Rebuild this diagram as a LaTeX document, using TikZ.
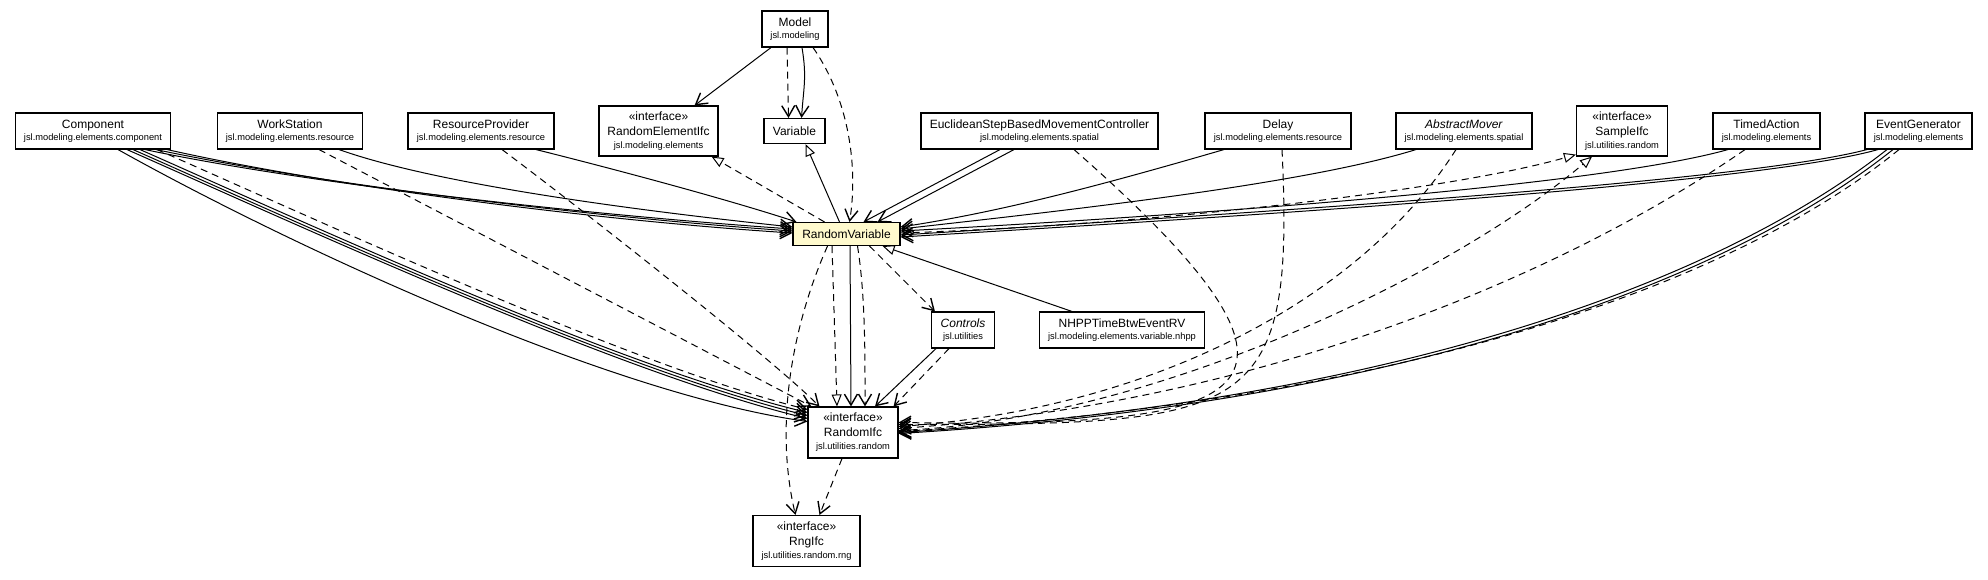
\documentclass[tikz,border=0pt]{standalone}
\usepackage{fontspec}
\setmainfont{Liberation Sans}
\usetikzlibrary{arrows.meta,calc}
\definecolor{rvfill}{RGB}{255,250,205}
\newcommand\pkgline[1]{{\fontsize{9.3}{11}\selectfont #1}}
\begin{document}
\begin{tikzpicture}[x=1pt,y=-1pt,
  box/.style={draw, line width=1.1pt, fill=white, inner sep=0pt, align=center, font=\fontsize{12}{14}\selectfont},
  assoc/.style={line width=1pt, -{Straight Barb[length=11pt,width=13pt,line width=1.4pt]}},
  dep/.style={assoc, dash pattern=on 7pt off 5pt},
  gen/.style={line width=1pt, -{Triangle[open,length=12pt,width=10pt,line width=1pt]}},
  real/.style={gen, dash pattern=on 7pt off 5pt}]
\useasboundingbox (0,0) rectangle (1988,579);

% nodes
\node[box, minimum width=66pt, minimum height=36pt] (model) at (795,29) {Model\\[-2pt]\pkgline{jsl.modeling}};
\node[box, minimum width=119pt, minimum height=50pt] (rei) at (658.5,131) {«interface»\\[1pt]RandomElementIfc\\[-1pt]\pkgline{jsl.modeling.elements}};
\node[box, minimum width=61pt, minimum height=25pt] (var) at (794.5,131) {Variable};
\node[box, minimum width=155pt, minimum height=36pt] (comp) at (93,131) {Component\\[-2pt]\pkgline{jsl.modeling.elements.component}};
\node[box, minimum width=145pt, minimum height=36pt] (ws) at (290,131) {WorkStation\\[-2pt]\pkgline{jsl.modeling.elements.resource}};
\node[box, minimum width=146pt, minimum height=36pt] (rp) at (481,131) {ResourceProvider\\[-2pt]\pkgline{jsl.modeling.elements.resource}};
\node[box, minimum width=237pt, minimum height=36pt] (esb) at (1039.5,131) {EuclideanStepBasedMovementController\\[-2pt]\pkgline{jsl.modeling.elements.spatial}};
\node[box, minimum width=146pt, minimum height=36pt] (delay) at (1278,131) {Delay\\[-2pt]\pkgline{jsl.modeling.elements.resource}};
\node[box, minimum width=136pt, minimum height=36pt] (am) at (1464,131) {\textit{AbstractMover}\\[-2pt]\pkgline{jsl.modeling.elements.spatial}};
\node[box, minimum width=91pt, minimum height=50pt] (sif) at (1622,131) {«interface»\\[1pt]SampleIfc\\[-1pt]\pkgline{jsl.utilities.random}};
\node[box, minimum width=107pt, minimum height=36pt] (ta) at (1766.5,131) {TimedAction\\[-2pt]\pkgline{jsl.modeling.elements}};
\node[box, minimum width=107pt, minimum height=36pt] (eg) at (1918.5,131) {EventGenerator\\[-2pt]\pkgline{jsl.modeling.elements}};
\node[box, fill=rvfill, minimum width=107pt, minimum height=23pt] (rv) at (846.5,234) {RandomVariable};
\node[box, minimum width=63pt, minimum height=36pt] (ctrl) at (963,330) {\textit{Controls}\\[-2pt]\pkgline{jsl.utilities}};
\node[box, minimum width=165pt, minimum height=36pt] (nhpp) at (1122,330) {NHPPTimeBtwEventRV\\[-2pt]\pkgline{jsl.modeling.elements.variable.nhpp}};
\node[box, minimum width=90pt, minimum height=51pt] (rif) at (853,432.5) {«interface»\\[1pt]RandomIfc\\[-1pt]\pkgline{jsl.utilities.random}};
\node[box, minimum width=107pt, minimum height=51pt] (rng) at (806.5,541) {«interface»\\[1pt]RngIfc\\[-1pt]\pkgline{jsl.utilities.random.rng}};

% Model
\draw[assoc] ($(model.south)+(-24,0)$) -- ($(rei.north east)+(-24,0)$);
\draw[dep] ($(model.south)+(-8,0)$) -- ($(var.north)+(-6,0)$);
\draw[assoc] ($(model.south)+(7,0)$) .. controls +(5,30) and +(2,-30) .. ($(var.north)+(7,0)$);
\draw[dep] ($(model.south)+(18,0)$) .. controls +(37,53) and +(8.5,-52.5) .. ($(rv.north)+(3,0)$);

% RandomVariable upward
\draw[real] ($(rv.north)+(-22,0)$) -- ($(rei.south east)+(-7,0)$);
\draw[gen] ($(rv.north)+(-7,0)$) -- ($(var.south)+(11,0)$);

% Component
\draw[assoc] ($(comp.south)+(52,0)$) .. controls +(170,36) and +(-190,-13) .. ($(rv.west)+(0,-5)$);
\draw[assoc] ($(comp.south)+(63,0)$) .. controls +(170,36) and +(-190,-13) .. ($(rv.west)+(0,-3)$);
\draw[assoc] ($(comp.south)+(74,0)$) .. controls +(170,38) and +(-190,-12) .. ($(rv.west)+(0,-1)$);
\draw[assoc] ($(comp.south)+(25,0)$) .. controls +(170,95) and +(-200,-28) .. ($(rif.west)+(0,-11)$);
\draw[assoc] ($(comp.south)+(34,0)$) .. controls +(170,75) and +(-188,-45) .. ($(rif.west)+(0,-14)$);
\draw[assoc] ($(comp.south)+(40,0)$) .. controls +(170,75) and +(-188,-45) .. ($(rif.west)+(0,-17)$);
\draw[assoc] ($(comp.south)+(47,0)$) .. controls +(170,75) and +(-188,-45) .. ($(rif.west)+(0,-20)$);
\draw[dep] ($(comp.south)+(64,0)$) .. controls +(173,76) and +(-168,-41) .. ($(rif.north west)+(0,3)$);

% WorkStation, ResourceProvider
\draw[assoc] ($(ws.south)+(49,0)$) .. controls +(101,36) and +(-143,-15) .. ($(rv.west)+(0,-7)$);
\draw[dep] ($(ws.south)+(29,0)$) -- ($(rif.north west)+(4,0)$);
\draw[assoc] ($(rp.south)+(55,0)$) .. controls +(84,21) and +(-67,-22) .. ($(rv.north west)+(4,0)$);
\draw[dep] ($(rp.south)+(21,0)$) .. controls +(80,60) and +(-50,-50) .. ($(rif.north west)+(12,0)$);

% EuclideanStepBasedMovementController
\draw[assoc] ($(esb.south)+(-39.5,0)$) -- ($(rv.north)+(17,0)$);
\draw[assoc] ($(esb.south)+(-25.5,0)$) -- ($(rv.north)+(31,0)$);
\draw[dep] ($(esb.south)+(34.5,0)$) .. controls +(286,251) and +(352,5) .. ($(rif.east)+(0,-10)$);

% Delay
\draw[assoc] ($(delay.south)+(-54,0)$) .. controls +(-124,36) and +(100,-15) .. ($(rv.east)+(0,-7)$);
\draw[dep] ($(delay.south)+(4,0)$) .. controls +(13,271) and +(352,0) .. ($(rif.east)+(0,-8)$);

% AbstractMover
\draw[assoc] ($(am.south)+(-48,0)$) .. controls +(-116,36) and +(150,-17) .. ($(rv.east)+(0,-5)$);
\draw[dep] ($(am.south)+(-8,0)$) .. controls +(-96,151) and +(252,-17) .. ($(rif.east)+(0,-6)$);

% SampleIfc realizations
\draw[real] ($(rv.east)+(0,-1)$) .. controls +(250,-8) and +(-126,36) .. ($(sif.south west)+(0,-2)$);
\draw[real] ($(rif.east)+(0,-2)$) .. controls +(252,-10) and +(-142,120) .. ($(sif.south)+(-30,0)$);

% TimedAction
\draw[assoc] ($(ta.south)+(-38.5,0)$) .. controls +(-128,36) and +(300,-16) .. ($(rv.east)+(0,-3)$);
\draw[dep] ($(ta.south)+(-21.5,0)$) .. controls +(-145,101) and +(402,-28) .. ($(rif.east)+(0,-4)$);

% EventGenerator
\draw[assoc] ($(eg.south)+(-51.5,0)$) .. controls +(-117,31) and +(400,-25) .. ($(rv.east)+(0,1)$);
\draw[assoc] ($(eg.south)+(-40.5,0)$) .. controls +(-117,33) and +(400,-24) .. ($(rv.east)+(0,3)$);
\draw[assoc] ($(eg.south)+(-31.5,0)$) .. controls +(-167,131) and +(502,-32) .. ($(rif.east)+(0,0)$);
\draw[assoc] ($(eg.south)+(-25.5,0)$) .. controls +(-167,133) and +(502,-30) .. ($(rif.east)+(0,1)$);
\draw[dep] ($(eg.south)+(-19.5,0)$) .. controls +(-167,136) and +(502,-30) .. ($(rif.east)+(0,-1)$);

% RandomVariable downward
\draw[assoc] ($(rv.south)+(3.5,0)$) -- ($(rif.north)+(-2,0)$);
\draw[real] ($(rv.south)+(-14.5,0)$) -- ($(rif.north)+(-16,0)$);
\draw[dep] ($(rv.south)+(11,0)$) .. controls +(8,50) and +(0,-50) .. ($(rif.north)+(12,0)$);
\draw[dep] ($(rv.south)+(23,0)$) -- ($(ctrl.north west)+(4,0)$);
\draw[dep] ($(rv.south)+(-19,0)$) .. controls +(-37.5,84.5) and +(-20.5,-85.5) .. ($(rng.north)+(-11,0)$);
\draw[gen] ($(nhpp.north)+(-50,0)$) -- ($(rv.south east)+(-18,0)$);

% Controls, RandomIfc
\draw[assoc] ($(ctrl.south)+(-27,0)$) -- ($(rif.north)+(22,0)$);
\draw[dep] ($(ctrl.south)+(-14,0)$) -- ($(rif.north east)+(-5,0)$);
\draw[dep] ($(rif.south)+(-11,0)$) -- ($(rng.north)+(13,0)$);
\end{tikzpicture}
\end{document}
